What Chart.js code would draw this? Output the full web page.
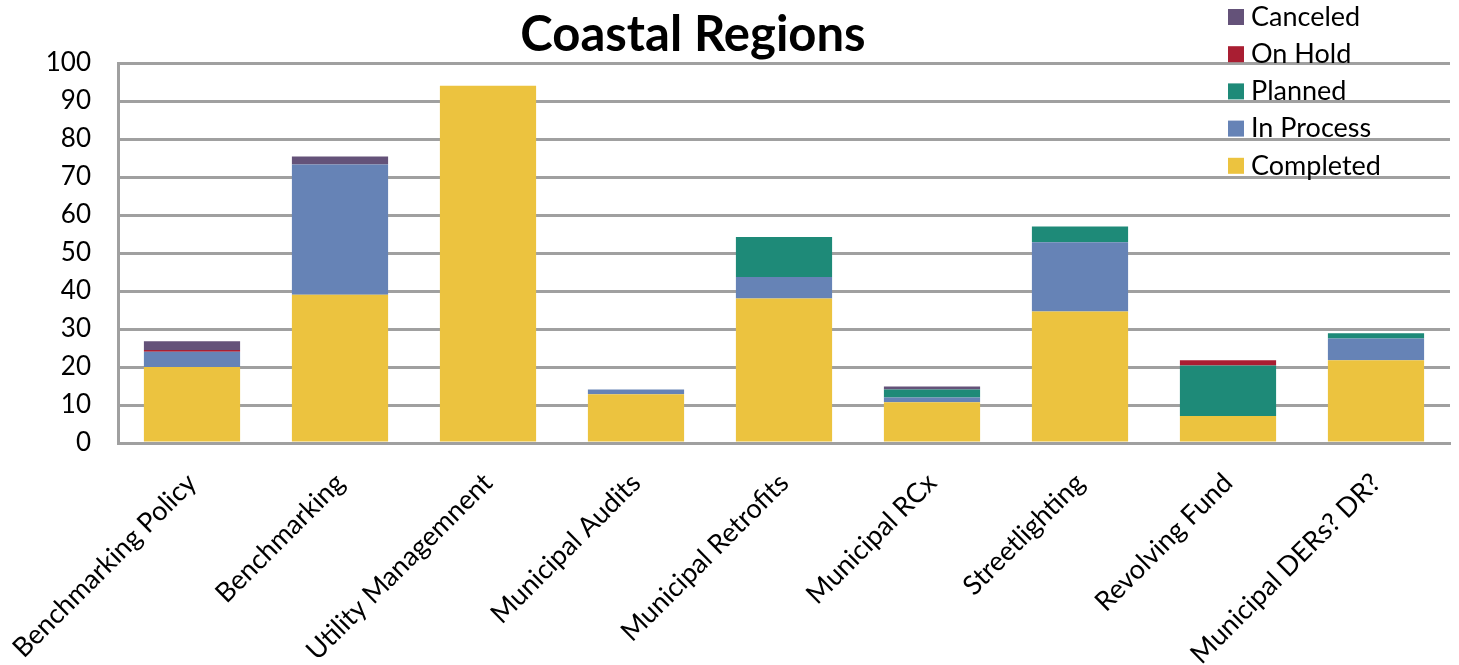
<!DOCTYPE html>
<html>
<head>
<meta charset="utf-8">
<script src="https://cdn.jsdelivr.net/npm/chart.js@4/dist/chart.umd.min.js"></script>
<style>
  html, body { margin: 0; padding: 0; background: #fff; }
  #wrap { width: 1459px; height: 665px; position: relative; }
</style>
</head>
<body>
<div id="wrap"><canvas id="chart"></canvas></div>
<script>
// ─── data ───────────────────────────────────────────
const categories = [
  'Benchmarking Policy', 'Benchmarking', 'Utility Managemnent', 'Municipal Audits',
  'Municipal Retrofits', 'Municipal RCx', 'Streetlighting', 'Revolving Fund', 'Municipal DERs? DR?'
];
const completed = [20, 39, 94, 12.8, 38, 10.7, 34.6, 7.1, 21.8];
const inProcess = [4, 34.3, 0, 1.3, 5.7, 1.3, 18.2, 0, 5.7];
const planned   = [0, 0, 0, 0, 10.5, 2.1, 4.2, 13.3, 1.4];
const onHold    = [0.5, 0, 0, 0, 0, 0, 0, 1.4, 0];
const canceled  = [2.3, 2.1, 0, 0, 0, 0.8, 0, 0, 0];
const yTicks    = [0, 10, 20, 30, 40, 50, 60, 70, 80, 90, 100];

const FONT = "Lato, 'Noto Sans', sans-serif";
const GRID = '#a0a0a0';

// 标题
const titlePlugin = {
  id: 'titleText',
  afterDraw(chart) {
    const c = chart.ctx;
    c.save();
    c.font = `bold 49px ${FONT}`;
    c.fillStyle = '#000';
    c.textAlign = 'center';
    c.textBaseline = 'middle';
    c.fillText('Coastal Regions', 693, 35);
    c.restore();
  }
};

// 图例：右上角，叠在网格上，倒序
const legendPlugin = {
  id: 'cornerLegend',
  afterDraw(chart) {
    const c = chart.ctx;
    const sets = chart.data.datasets.slice().reverse();
    c.save();
    c.font = `27px ${FONT}`;
    c.textBaseline = 'middle';
    c.textAlign = 'left';
    sets.forEach((ds, i) => {
      const y = 17 + i * 37.2;
      c.fillStyle = ds.backgroundColor;
      c.fillRect(1228, y - 8, 16, 16);
      c.fillStyle = '#000';
      c.fillText(ds.label, 1251, y);
    });
    c.restore();
  }
};

const mk = (label, data, color) => ({
  label, data, backgroundColor: color, borderWidth: 0,
  categoryPercentage: 1, barPercentage: 0.65,
});

new Chart(document.getElementById('chart'), {
  type: 'bar',
  data: {
    labels: categories,
    datasets: [
      mk('Completed', completed, '#ECC33F'),
      mk('In Process', inProcess, '#6683B6'),
      mk('Planned', planned, '#1E8A78'),
      mk('On Hold', onHold, '#A91E32'),
      mk('Canceled', canceled, '#645279'),
    ],
  },
  options: {
    responsive: true,
    maintainAspectRatio: false,
    animation: false,
    layout: { padding: { top: 63, right: 9, left: 0, bottom: 0 } },
    plugins: { legend: { display: false }, tooltip: { enabled: false } },
    scales: {
      x: {
        stacked: true,
        grid: { display: false, drawTicks: false },
        border: { color: GRID, width: 3 },
        ticks: {
          color: '#000', font: { family: FONT, size: 27 },
          maxRotation: 45, minRotation: 45, padding: 24, autoSkip: false,
        },
        afterFit(scale) {
          scale.height = 222;
          // 旋转标签不要挤占左右空间
          scale.paddingLeft = 0;
          scale.paddingRight = 0;
        },
      },
      y: {
        stacked: true,
        min: 0, max: 100,
        afterBuildTicks(scale) { scale.ticks = yTicks.map(v => ({ value: v })); },
        grid: { color: GRID, lineWidth: 3, drawTicks: false },
        border: { color: GRID, width: 3 },
        ticks: { color: '#000', font: { family: FONT, size: 26 }, padding: 27 },
        afterFit(scale) { scale.width = 118; },
      },
    },
  },
  plugins: [titlePlugin, legendPlugin],
});
</script>
</body>
</html>
